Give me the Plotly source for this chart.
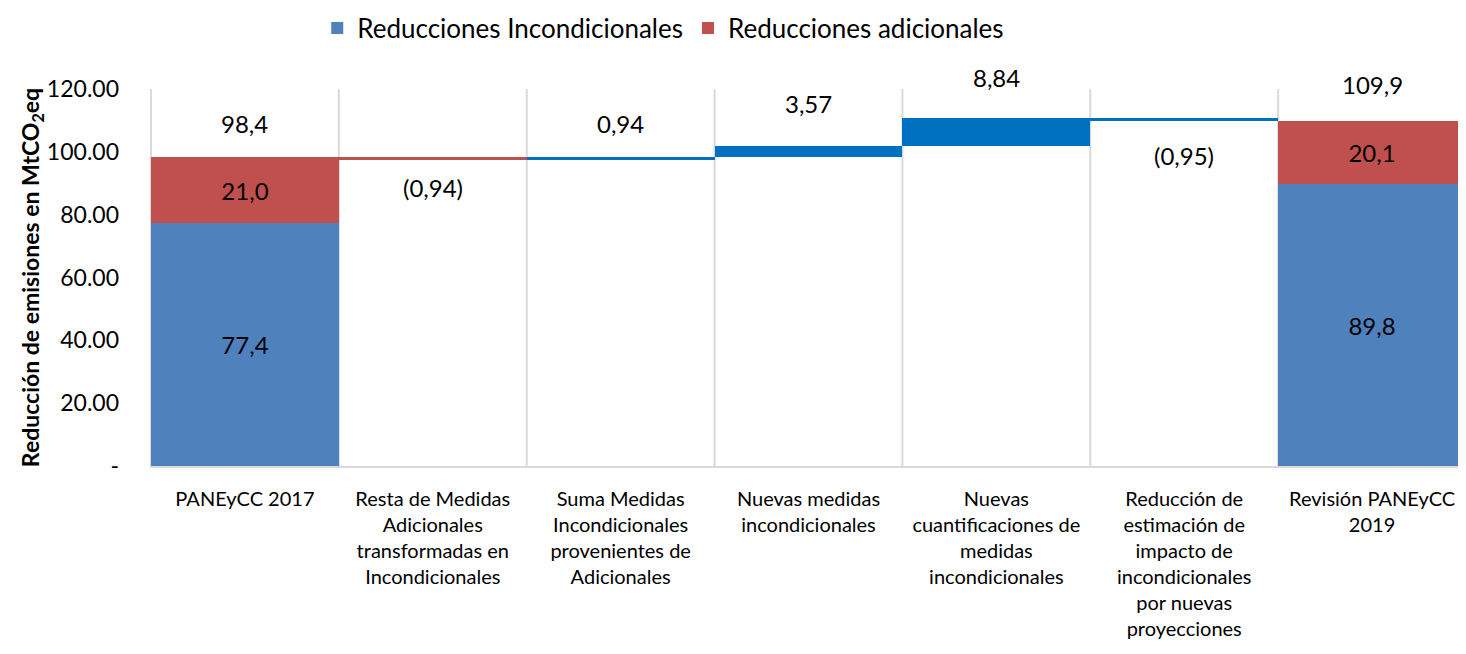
import plotly.graph_objs as go

# Datos
categorias = [
    "PANEyCC 2017",
    "Resta de Medidas<br>Adicionales<br>transformadas en<br>Incondicionales",
    "Suma Medidas<br>Incondicionales<br>provenientes de<br>Adicionales",
    "Nuevas medidas<br>incondicionales",
    "Nuevas<br>cuantificaciones de<br>medidas<br>incondicionales",
    "Reducción de<br>estimación de<br>impacto de<br>incondicionales<br>por nuevas<br>proyecciones",
    "Revisión PANEyCC<br>2019",
]
incondicionales = [77.4, None, None, None, None, None, 89.8]
adicionales = [21.0, None, None, None, None, None, 20.1]
variaciones = [-0.94, 0.94, 3.57, 8.84, -0.95]  # categorías 2 a 6
totales = [98.4, 109.9]
ticks_y = [0, 20, 40, 60, 80, 100, 120]
ticks_y_texto = ["-", "20.00", "40.00", "60.00", "80.00", "100.00", "120.00"]

AZUL = "#4F81BD"
ROJO = "#C0504D"
AZUL_FLOT = "#0070C0"
FUENTE = "Lato"
TAM = 24


def fmt(v, dec=1):
    s = f"{abs(v):.{dec}f}".replace(".", ",")
    return f"({s})" if v < 0 else s


fig = go.Figure()

# Barras apiladas de los totales (sólo primera y última categoría)
idx = [i for i, v in enumerate(incondicionales) if v is not None]
x_tot = [categorias[i] for i in idx]
inc_tot = [incondicionales[i] for i in idx]
adi_tot = [adicionales[i] for i in idx]

fig.add_trace(go.Bar(
    x=x_tot, y=inc_tot, base=0,
    name="Reducciones Incondicionales", marker=dict(color=AZUL, line=dict(width=0)),
    text=[fmt(v) for v in inc_tot],
    textposition="inside", insidetextanchor="middle",
    textfont=dict(size=TAM, color="black", family=FUENTE),
))

fig.add_trace(go.Bar(
    x=x_tot, y=adi_tot, base=inc_tot,
    name="Reducciones adicionales", marker=dict(color=ROJO, line=dict(width=0)),
    text=[fmt(v) for v in adi_tot],
    textposition="inside", insidetextanchor="middle",
    textfont=dict(size=TAM, color="black", family=FUENTE),
))

# Barras flotantes (cascada)
nivel = inc_tot[0] + adi_tot[0]
bases, alturas, colores, tops = [], [], [], []
for i, d in enumerate(variaciones):
    nuevo = nivel + d
    bases.append(min(nivel, nuevo))
    alturas.append(abs(d))
    colores.append(ROJO if i == 0 else AZUL_FLOT)
    tops.append((max(nivel, nuevo), min(nivel, nuevo)))
    nivel = nuevo

fig.add_trace(go.Bar(
    x=categorias[1:6], y=alturas, base=bases,
    marker=dict(color=colores, line=dict(width=0)),
    showlegend=False, hoverinfo="skip",
))

# Etiquetas
desplaz = [11, 17, 26, 24, 18]
for i, d in enumerate(variaciones):
    arriba, abajo = tops[i]
    if d >= 0:
        fig.add_annotation(x=categorias[i + 1], y=arriba, text=fmt(d, 2),
                           yanchor="bottom", yshift=desplaz[i], showarrow=False)
    else:
        fig.add_annotation(x=categorias[i + 1], y=abajo, text=fmt(d, 2),
                           yanchor="top", yshift=-desplaz[i], showarrow=False)

for cat, t, s in zip(x_tot, totales, [17, 20]):
    fig.add_annotation(x=cat, y=t, text=fmt(t), yanchor="bottom",
                       yshift=s, showarrow=False)

fig.update_annotations(font=dict(size=TAM, color="black", family=FUENTE))

# Líneas verticales entre categorías
for i in range(len(categorias)):
    fig.add_shape(type="line", xref="x", yref="paper",
                  x0=i - 0.5, x1=i - 0.5, y0=0, y1=1,
                  line=dict(color="#D9D9D9", width=2), layer="below")

# la página añade 8px de margen al body
fig.update_layout(
    width=1458, height=646,
    barmode="overlay", bargap=0,
    plot_bgcolor="white", paper_bgcolor="white",
    margin=dict(l=142, r=0, t=81, b=188),
    font=dict(family=FUENTE, color="black"),
    legend=dict(orientation="h", x=0.39, xanchor="center",
                yref="container", y=0.969, yanchor="middle",
                font=dict(size=26), itemwidth=30, traceorder="normal"),
    showlegend=True,
)

fig.update_yaxes(
    range=[0, 120], tickvals=ticks_y, ticktext=ticks_y_texto,
    showgrid=False, zeroline=False, tickfont=dict(size=23),
    ticklabelstandoff=30, automargin=False,
    title=dict(text="<b>Reducción de emisiones en MtCO<sub>2</sub>eq</b>",
               font=dict(size=23), standoff=0),
)
fig.update_xaxes(
    showgrid=False, tickfont=dict(size=20), ticks="", automargin=False,
    showline=True, linecolor="#D9D9D9", linewidth=2,
    ticklabelstandoff=14,
    categoryorder="array", categoryarray=categorias,
)

fig.write_html("out.html")
